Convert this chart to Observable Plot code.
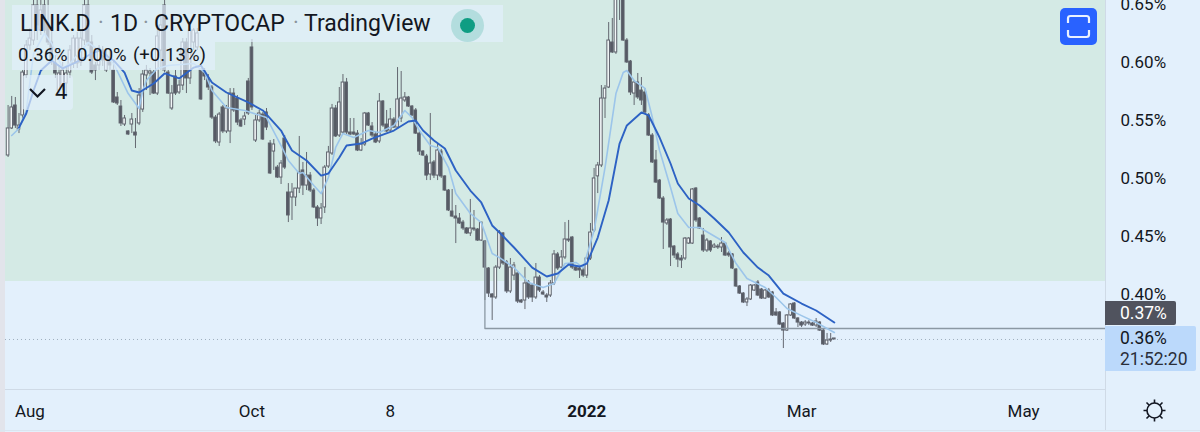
<!DOCTYPE html>
<html><head><meta charset="utf-8">
<script src="https://cdn.jsdelivr.net/npm/d3@7"></script>
<script src="https://cdn.jsdelivr.net/npm/@observablehq/plot@0.6"></script>
<style>
html,body{margin:0;padding:0;background:#e3f0fc;width:1200px;height:432px;overflow:hidden;font-family:Roboto,sans-serif;color:#131722}
#wrap{position:relative;width:1200px;height:432px}
#wrap svg{display:block}
.ui{position:absolute}
.t{position:absolute;white-space:nowrap;line-height:1}
</style></head><body><div id="wrap"><div id="chart"></div>
<div class="ui" style="left:0;top:0;width:5px;height:432px;background:#e2e4eb"></div>
<div class="ui" style="left:1105px;top:389px;width:1px;height:41px;background:#cfdae6"></div>
<div class="ui" style="left:0;top:430px;width:1200px;height:1px;background:#dbe5f0"></div>
<div class="ui" style="left:12px;top:5px;width:491px;height:37px;background:rgba(227,240,252,.7)"></div>
<div class="ui" style="left:12px;top:42px;width:203px;height:28px;background:rgba(227,240,252,.7)"></div>
<div class="ui" style="left:22px;top:75px;width:51px;height:35px;border-radius:4px;background:rgba(227,240,252,.7)"></div>
<span class="t" style="left:20px;top:12px;font-size:23px">LINK.D</span>
<span class="t" style="left:98px;top:12px;font-size:22px;color:#8a939c">·</span>
<span class="t" style="left:110px;top:12px;font-size:23px">1D</span>
<span class="t" style="left:143px;top:12px;font-size:22px;color:#8a939c">·</span>
<span class="t" style="left:154px;top:12px;font-size:23px">CRYPTOCAP</span>
<span class="t" style="left:293px;top:12px;font-size:22px;color:#8a939c">·</span>
<span class="t" style="left:304px;top:12px;font-size:23px">TradingView</span>
<div class="ui" style="left:451px;top:9px;width:33px;height:33px;border-radius:50%;background:rgba(8,153,129,.2)"></div>
<div class="ui" style="left:460px;top:18px;width:15px;height:15px;border-radius:50%;background:#0f9d83"></div>
<span class="t" style="left:18px;top:46px;font-size:18.5px">0.36%</span>
<span class="t" style="left:77px;top:46px;font-size:18.5px">0.00%</span>
<span class="t" style="left:133px;top:46px;font-size:18.5px">(+0.13%)</span>
<svg class="ui" style="left:28px;top:85px" width="20" height="16"><path d="M2 4 L9.5 11.5 L17 4" fill="none" stroke="#131722" stroke-width="2.2"/></svg>
<span class="t" style="left:55px;top:81px;font-size:22px">4</span>
<svg class="ui" style="left:1060px;top:8px" width="38" height="38"><rect width="37" height="37" rx="5" fill="#2962ff"/><path d="M8 15V10.5Q8 8 10.5 8H26.5Q29 8 29 10.5V15M8 22V26.5Q8 29 10.5 29H26.5Q29 29 29 26.5V22" fill="none" stroke="#e9f1ff" stroke-width="2.2"/></svg>
<div class="ui" style="left:1105px;top:301px;width:71px;height:24px;background:#50535e;border-radius:0 2px 2px 0"></div>
<span class="t" style="left:1120px;top:305px;font-size:17.5px;color:#fff">0.37%</span>
<div class="ui" style="left:1105px;top:326px;width:91px;height:45px;background:#bbd9fb;border-radius:0 2px 2px 0"></div>
<span class="t" style="left:1120px;top:330px;font-size:17.5px">0.36%</span>
<span class="t" style="left:1120px;top:351px;font-size:17.5px;color:#2a2e39">21:52:20</span>
<svg class="ui" style="left:1142px;top:398px" width="25" height="25"><g fill="none" stroke="#131722" stroke-width="1.6"><circle cx="12.5" cy="12.5" r="7.5"/><path d="M12.5 1.5V5M12.5 20V23.5M1.5 12.5H5M20 12.5H23.5M4.5 4.5L7 7M18 18L20.5 20.5M4.5 20.5L7 18M18 7L20.5 4.5"/></g></svg>
</div>
<script>
const firstBar = "2021-07-26";
const opens = [
.5198,.5431,.5629,.5422,.5543,.5888,.6146,.6189,.6491,.6275,
.6491,.6336,.6172,.5991,.5758,.5801,.5819,.5913,.5991,.5991,
.6000,.6189,.6491,.6172,.5974,.5974,.6103,.5931,.6017,.5931,
.5698,.5620,.5465,.5405,.5465,.5396,.5474,.5594,.5888,.5905,
.5913,.5732,.6103,.6491,.5913,.5603,.5879,.5741,.5801,.6172,
.5862,.6172,.6129,.5931,.5913,.5862,.5784,.5525,.5310,.5612,
.5405,.5405,.5732,.5689,.5500,.5508,.5836,.6129,.5327,.5500,
.5551,.5569,.5301,.5232,.5094,.5008,.5344,.4879,.4836,.4836,
.4913,.5069,.4939,.5025,.4896,.4750,.4655,.4750,.5103,.5215,
.5603,.5370,.5396,.5827,.5396,.5396,.5387,.5241,.5293,.5560,
.5448,.5379,.5319,.5663,.5465,.5413,.5508,.5439,.5517,.5672,
.5698,.5620,.5586,.5387,.5232,.5189,.5034,.5138,.5025,.5232,
.5017,.4896,.4715,.4672,.4655,.4620,.4569,.4526,.4569,.4560,
.4465,.4457,.4224,.4000,.3974,.4232,.4526,.4276,.4026,.4163,
.4181,.3948,.3948,.4103,.4077,.3974,.4146,.4017,.3991,.3991,
.4095,.4345,.4232,.4319,.4474,.4491,.4232,.4224,.4207,.4163,
.4310,.4551,.5018,.5112,.5689,.5784,.6172,.6086,.6577,.6577,
.6189,.6008,.5732,.5827,.5758,.5741,.5543,.5370,.5155,.4982,
.4827,.4612,.4646,.4413,.4345,.4310,.4310,.4439,.4439,.4913,
.4655,.4508,.4379,.4457,.4405,.4413,.4405,.4439,.4353,.4345,
.4215,.4069,.4008,.3931,.3957,.4034,.4103,.4043,.3965,.4034,
.4017,.3845,.3845,.3750,.3689,.3819,.3922,.3793,.3758,.3741,
.3750,.3750,.3732,.3758,.3689,.3569,.3603,.3612];
const closes = [
.5431,.5612,.5456,.5456,.5913,.6146,.6206,.6491,.6319,.6448,
.6275,.6172,.6017,.5905,.5905,.5931,.5905,.6103,.6206,.6206,
.6206,.6491,.6172,.5913,.5931,.6120,.6017,.6060,.5974,.5655,
.5646,.5474,.5517,.5379,.5508,.5370,.5715,.5896,.5931,.5922,
.5732,.6224,.6319,.5931,.5732,.5732,.5732,.5801,.6172,.5862,
.6275,.6275,.6250,.5681,.5879,.5784,.5525,.5319,.5551,.5405,
.5603,.5732,.5586,.5482,.5448,.5534,.5560,.5612,.5500,.5560,
.5336,.5439,.5043,.5293,.5008,.5129,.5094,.4681,.4879,.4913,
.5051,.4939,.5025,.4896,.4750,.4655,.4741,.5094,.5224,.5603,
.5362,.5655,.5827,.5396,.5379,.5379,.5241,.5293,.5560,.5456,
.5370,.5310,.5663,.5456,.5405,.5508,.5439,.5681,.5689,.5698,
.5620,.5543,.5387,.5232,.5198,.5025,.5129,.5025,.5241,.5017,
.4896,.4724,.4672,.4655,.4612,.4569,.4526,.4569,.4560,.4465,
.4620,.4232,.4008,.3974,.4232,.4534,.4267,.4026,.4232,.4250,
.3939,.3931,.4095,.3974,.3974,.4146,.4034,.4000,.3974,.4095,
.4345,.4224,.4319,.4474,.4465,.4232,.4207,.4207,.4163,.4310,
.4534,.5000,.5112,.5689,.5775,.6189,.6086,.6577,.6663,.6189,
.6000,.5741,.5827,.5698,.5672,.5569,.5370,.5138,.4965,.4827,
.4620,.4638,.4405,.4336,.4301,.4293,.4482,.4482,.4905,.4638,
.4569,.4379,.4465,.4379,.4422,.4405,.4439,.4336,.4336,.4224,
.4069,.4008,.3931,.3957,.4077,.4077,.3991,.3965,.4034,.3974,
.3819,.3819,.3741,.3689,.3819,.3914,.3793,.3758,.3732,.3758,
.3758,.3732,.3767,.3689,.3569,.3603,.3612,.3621];
const highs = [
.5629,.5707,.5698,.5560,.5931,.6189,.6293,.6603,.6586,.6568,
.6603,.6551,.6275,.6060,.5974,.6000,.5956,.6146,.6232,.6258,
.6275,.6577,.6586,.6232,.6000,.6146,.6137,.6103,.6103,.6017,
.5741,.5672,.5543,.5413,.5560,.5517,.5775,.5931,.5974,.5948,
.5931,.6319,.6405,.6603,.5931,.5801,.5931,.5844,.6206,.6206,
.6293,.6293,.6293,.5948,.5948,.5896,.5801,.5543,.5569,.5629,
.5629,.5775,.5775,.5715,.5517,.5569,.5862,.6198,.5543,.5586,
.5569,.5603,.5327,.5336,.5112,.5155,.5370,.4956,.4956,.4913,
.5362,.5138,.5224,.5051,.4913,.4767,.4784,.5112,.5276,.5638,
.5629,.5784,.5896,.5862,.5517,.5517,.5413,.5344,.5569,.5569,
.5482,.5396,.5732,.5672,.5586,.5603,.5525,.5956,.5922,.5741,
.5707,.5629,.5603,.5405,.5241,.5207,.5560,.5155,.5301,.5250,
.5025,.4905,.4905,.4767,.4698,.4638,.4577,.4819,.4724,.4569,
.4620,.4465,.4232,.4008,.4250,.4551,.4534,.4293,.4310,.4276,
.4198,.3957,.4232,.4120,.4095,.4267,.4163,.4034,.4008,.4120,
.4379,.4362,.4379,.4620,.4638,.4500,.4250,.4241,.4224,.4327,
.4612,.5086,.5138,.5801,.5801,.6344,.6379,.6706,.6750,.6706,
.6206,.6017,.5844,.5905,.5870,.5775,.5560,.5387,.5241,.4991,
.4844,.4655,.4655,.4422,.4362,.4336,.4491,.4491,.4913,.4922,
.4663,.4569,.4482,.4465,.4439,.4431,.4491,.4448,.4370,.4353,
.4224,.4077,.4017,.3974,.4086,.4086,.4120,.4052,.4043,.4052,
.4026,.3879,.3853,.3758,.3827,.3922,.3931,.3801,.3767,.3775,
.3775,.3758,.3793,.3767,.3698,.3664,.3664,.3621];
const lows = [
.5181,.5422,.5431,.5387,.5500,.5862,.6103,.6146,.6189,.6232,
.6232,.6146,.5974,.5862,.5715,.5758,.5698,.5862,.5948,.5948,
.5965,.6146,.6137,.5896,.5844,.5931,.5965,.5913,.5931,.5646,
.5629,.5448,.5448,.5370,.5387,.5258,.5456,.5569,.5758,.5715,
.5724,.5715,.5931,.5913,.5724,.5586,.5715,.5724,.5758,.5732,
.5810,.6103,.6103,.5672,.5844,.5758,.5508,.5301,.5276,.5387,
.5387,.5301,.5569,.5456,.5439,.5456,.5543,.5586,.5310,.5482,
.5327,.5413,.5034,.5069,.5000,.4948,.5077,.4620,.4638,.4758,
.4870,.4853,.4896,.4879,.4741,.4586,.4603,.4698,.5086,.5198,
.5353,.5353,.5379,.5379,.5370,.5370,.5232,.5232,.5276,.5448,
.5353,.5301,.5301,.5439,.5396,.5405,.5431,.5422,.5482,.5655,
.5612,.5534,.5379,.5198,.5189,.4982,.4982,.5000,.4982,.5000,
.4888,.4715,.4663,.4439,.4603,.4551,.4517,.4500,.4543,.4457,
.4457,.3948,.3974,.3776,.3957,.4215,.4250,.4008,.4008,.4120,
.3922,.3922,.3870,.3957,.3931,.3957,.4017,.3991,.3931,.3974,
.4077,.4207,.4224,.4301,.4448,.4215,.4198,.4138,.4146,.4138,
.4293,.4534,.4870,.5094,.5517,.5775,.6077,.6069,.6362,.6181,
.5991,.5715,.5629,.5681,.5629,.5551,.5362,.5129,.4957,.4819,
.4388,.4595,.4241,.4310,.4232,.4224,.4293,.4431,.4431,.4620,
.4560,.4362,.4362,.4362,.4396,.4388,.4362,.4327,.4319,.4215,
.4060,.4000,.3922,.3896,.3948,.4026,.3982,.3957,.3957,.3965,
.3810,.3810,.3732,.3534,.3681,.3810,.3784,.3715,.3715,.3724,
.3732,.3724,.3715,.3681,.3560,.3560,.3586,.3612];
const slowBars = [3,5,7,9,12,15,18,23,25,29,32,34,36,40,43,47,51,53,56,60,66,70,75,76,78,82,86,88,91,93,97,100,106,110,112,114,117,120,123,127,130,133,135,139,144,148,151,154,157,159,162,165,168,170,174,176,179,182,184,187,190,194,198,202,206,209,213,218,222,227];
const slowValues = [.5439,.5560,.5758,.5931,.6017,.5948,.5991,.6077,.6103,.6017,.5913,.5758,.5741,.5819,.5905,.5862,.5956,.5974,.5827,.5741,.5655,.5586,.5413,.5353,.5241,.5155,.5025,.5043,.5181,.5284,.5301,.5344,.5413,.5491,.5500,.5413,.5327,.5258,.5069,.4896,.4793,.4595,.4534,.4405,.4232,.4155,.4181,.4258,.4241,.4267,.4491,.4810,.5301,.5457,.5569,.5543,.5353,.5129,.4957,.4827,.4767,.4655,.4534,.4362,.4232,.4163,.4008,.3922,.3862,.3758];
const fastBars = [1,3,5,7,10,12,15,17,22,25,29,33,36,37,38,41,44,51,54,56,60,65,71,75,77,80,81,84,86,88,90,92,95,99,102,106,109,111,113,116,118,121,123,127,130,133,135,139,143,147,150,153,156,158,161,164,167,169,170,172,175,177,179,182,184,187,190,197,200,203,208,211,214,218,222,227];
const fastValues = [.5370,.5431,.5586,.6077,.6250,.6163,.5948,.5991,.6172,.6103,.5991,.5732,.5603,.5758,.5844,.5948,.5974,.5991,.5913,.5758,.5612,.5586,.5525,.5284,.5155,.5043,.5051,.4939,.4870,.5008,.5267,.5388,.5353,.5413,.5396,.5456,.5586,.5525,.5413,.5284,.5267,.5094,.4870,.4698,.4620,.4353,.4318,.4232,.4103,.4060,.4095,.4267,.4276,.4232,.4551,.5094,.5732,.5913,.5931,.5844,.5776,.5525,.5241,.4922,.4698,.4577,.4577,.4448,.4267,.4138,.4060,.3974,.3879,.3818,.3758,.3672];
const priceTicks = [0.40,0.45,0.50,0.55,0.60,0.65];
const timeTicks = ["2021-08-01","2021-10-01","2021-11-08","2022-01-01","2022-03-01","2022-05-01"];
const timeLabels = ["Aug","Oct","8","2022","Mar","May"];
const levelPrice = 0.3707, lastPrice = 0.3612, zoneTop = 0.4112;
const levelStartBar = 131, levelTopPrice = 0.4465;

const day = 864e5, t0 = +new Date(firstBar+"T00:00:00Z");
const barDate = (i, off=0) => new Date(t0 + (i+off)*day);
const candles = opens.map((o,i)=>({i,date:barDate(i),o,c:closes[i],h:highs[i],l:lows[i],up:closes[i]>=o}));
const slow = slowBars.map((b,k)=>({date:barDate(b),v:slowValues[k]}));
const fast = fastBars.map((b,k)=>({date:barDate(b),v:fastValues[k]}));
const xDomain = [new Date("2021-07-25T07:00:00Z"), new Date("2022-05-23T12:00:00Z")];
const yDomain = [0.3181,0.6534];
const tickDates = timeTicks.map(d=>new Date(d+"T00:00:00Z"));
const labelOf = new Map(tickDates.map((d,i)=>[+d,timeLabels[i]]));
const level = [{date:barDate(levelStartBar),v:levelTopPrice},{date:barDate(levelStartBar),v:levelPrice},{date:xDomain[1],v:levelPrice}];
const hw = 0.36;
const plot = Plot.plot({
  width:1200,height:432,marginLeft:5,marginRight:95,marginTop:0,marginBottom:43,
  style:{background:"transparent",fontFamily:"Roboto, sans-serif"},
  x:{type:"utc",domain:xDomain},
  y:{domain:yDomain},
  marks:[
    Plot.rect([{}],{x1:()=>xDomain[0],x2:()=>xDomain[1],y1:()=>zoneTop,y2:()=>yDomain[1],fill:"#d4eae5"}),
    Plot.ruleY([yDomain[0]],{stroke:"#cfdae6"}),
    Plot.ruleX([xDomain[1]],{stroke:"#cfdae6"}),
    Plot.ruleY([lastPrice],{stroke:"#9fb0bf",strokeDasharray:"1,3"}),
    Plot.ruleX(candles,{x:"date",y1:"l",y2:"h",stroke:"#646871",strokeWidth:1,clip:true}),
    Plot.rect(candles,{x1:d=>barDate(d.i,-hw),x2:d=>barDate(d.i,hw),y1:"o",y2:"c",
      fill:d=>d.up?"#f3f8f9":"#565a64",stroke:"#5e626c",strokeWidth:1,clip:true}),
    Plot.line(level,{x:"date",y:"v",stroke:"#8b98a3",strokeWidth:1.3}),
    Plot.line(fast,{x:"date",y:"v",stroke:"#9cc5ea",strokeWidth:1.6,clip:true}),
    Plot.line(slow,{x:"date",y:"v",stroke:"#2d62c4",strokeWidth:1.9,clip:true}),
    Plot.axisY({anchor:"right",ticks:priceTicks,tickSize:0,tickPadding:15,tickFormat:d=>d.toFixed(2)+"%",fontSize:17,color:"#131722",label:null}),
    Plot.axisX({anchor:"bottom",ticks:tickDates,tickSize:0,tickPadding:15,tickFormat:d=>labelOf.get(+d),fontSize:17,color:"#131722",label:null})
  ]
});
d3.select(plot).selectAll("text").filter(function(){return this.textContent==="2022"}).style("font-weight","700");
document.getElementById("chart").append(plot);
</script></body></html>
